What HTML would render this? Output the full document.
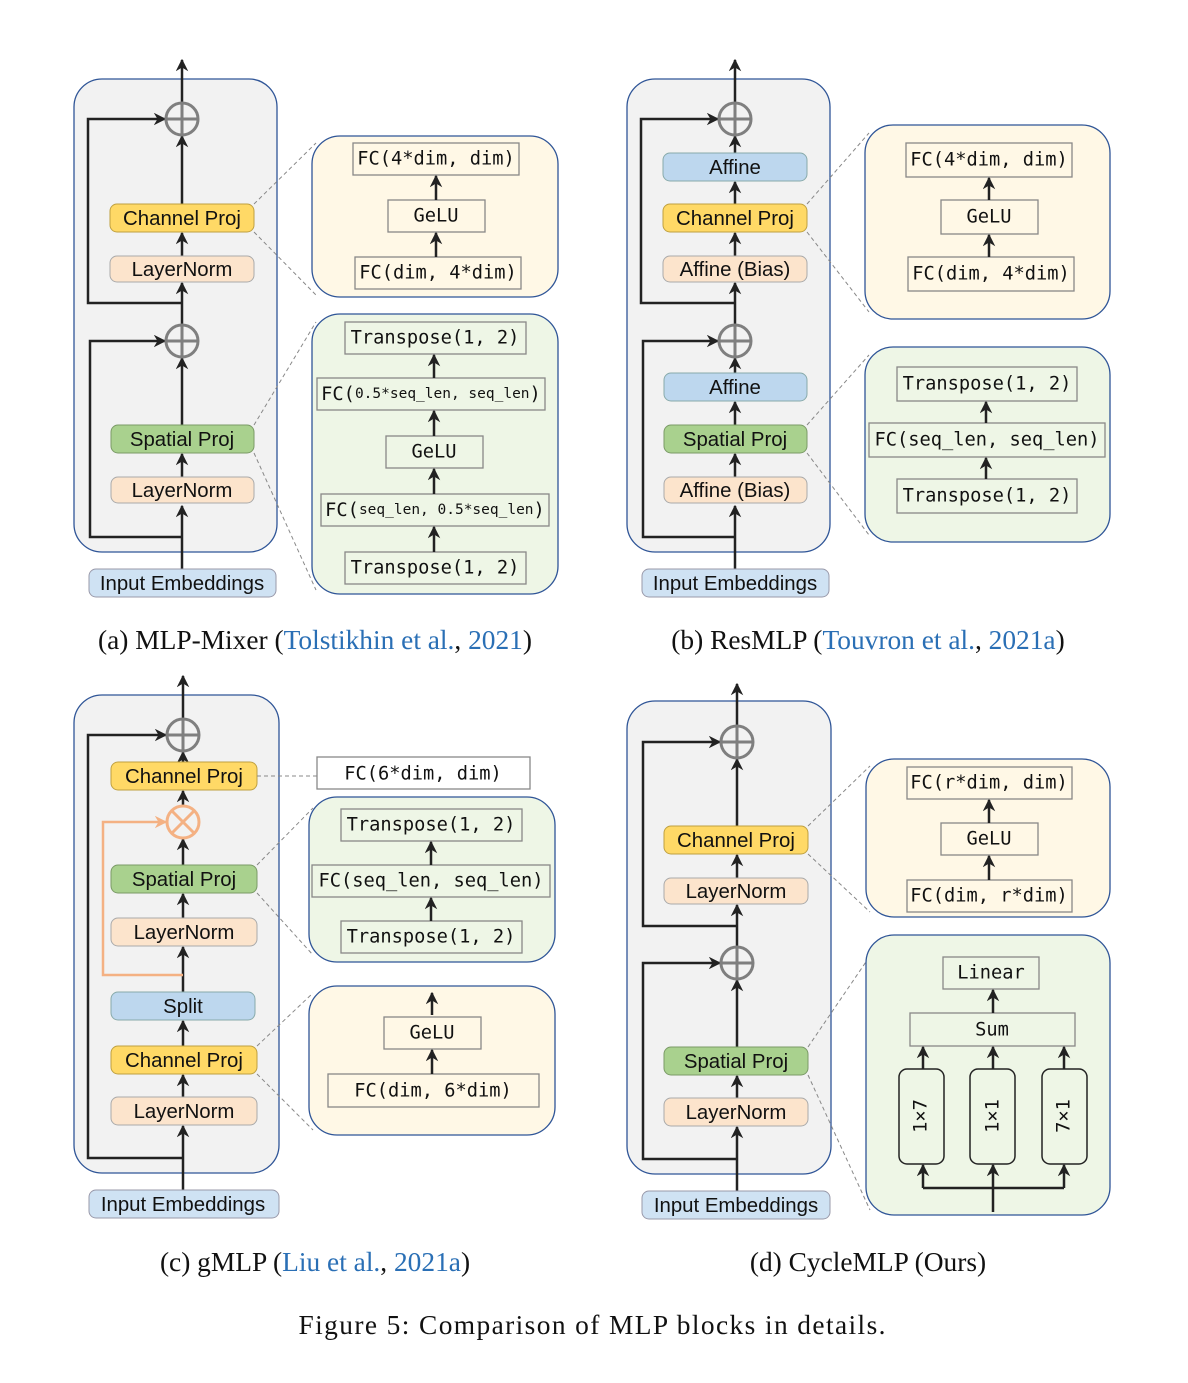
<!DOCTYPE html>
<html><head><meta charset="utf-8"><style>
body{margin:0;background:#fff}
svg{display:block}
.s{font-family:"Liberation Sans",sans-serif;font-size:20.4px;fill:#111;text-anchor:middle;dominant-baseline:central}
.m{font-family:"DejaVu Sans Mono","Liberation Mono",monospace;font-size:18.7px;fill:#111;text-anchor:middle;dominant-baseline:central}
.cap{font-family:"Liberation Serif",serif;font-size:27.4px;fill:#111;text-anchor:middle}
.l{fill:#2a6fb5}
.ln{stroke:#222;stroke-width:2.5;fill:none}
.dl{stroke:#888;stroke-width:1;stroke-dasharray:4 3;fill:none}
.bx{fill:#fff0;stroke:#888;stroke-width:1.3}
</style></head><body>
<svg width="1188" height="1383" viewBox="0 0 1188 1383" xmlns="http://www.w3.org/2000/svg">
<defs>
<marker id="a" viewBox="0 0 10 10" refX="9" refY="5" markerWidth="5" markerHeight="5" orient="auto"><path d="M0,0 L10,5 L0,10 L3,5z" fill="#222"/></marker>
<marker id="o" viewBox="0 0 10 10" refX="9" refY="5" markerWidth="5" markerHeight="5" orient="auto"><path d="M0,0 L10,5 L0,10 L3,5z" fill="#f4b183"/></marker>
</defs>

<!-- ===== (a) ===== -->
<rect x="74" y="79" width="203" height="473" rx="28" fill="#f2f2f2" stroke="#2f5597" stroke-width="1.3"/>
<g class="ln" marker-end="url(#a)">
<line x1="182" y1="569" x2="182" y2="506"/><line x1="182" y1="477" x2="182" y2="454"/>
<line x1="182" y1="425" x2="182" y2="358"/><line x1="182" y1="325" x2="182" y2="283"/>
<line x1="182" y1="256" x2="182" y2="233"/><line x1="182" y1="204" x2="182" y2="136"/>
<line x1="182" y1="103" x2="182" y2="60"/>
<polyline points="182,303 88,303 88,119 165,119"/>
<polyline points="182,537 90,537 90,341 165,341"/>
</g>
<g fill="none" stroke="#7f7f7f" stroke-width="3">
<circle cx="182" cy="119" r="16"/><path d="M166,119H198M182,103V135"/>
<circle cx="182" cy="341" r="16"/><path d="M166,341H198M182,325V357"/>
</g>
<rect x="110" y="204" width="144" height="28" rx="7" fill="#ffd966" stroke="#bfa040"/><text class="s" x="182" y="219">Channel Proj</text>
<rect x="110" y="256" width="144" height="26" rx="7" fill="#fce4cc" stroke="#aaa"/><text class="s" x="182" y="270">LayerNorm</text>
<rect x="111" y="425" width="143" height="28" rx="7" fill="#a9d18e" stroke="#7a9a66"/><text class="s" x="182" y="440">Spatial Proj</text>
<rect x="111" y="477" width="143" height="26" rx="7" fill="#fce4cc" stroke="#aaa"/><text class="s" x="182" y="491">LayerNorm</text>
<rect x="89" y="569" width="187" height="28" rx="7" fill="#cfe2f3" stroke="#99a"/><text class="s" x="182" y="584">Input Embeddings</text>
<path class="dl" d="M254,204 L316,143 M254,232 L316,295 M254,425 L316,322 M254,453 L316,590"/>
<rect x="312" y="136" width="246" height="161" rx="28" fill="#fff8e6" stroke="#2f5597" stroke-width="1.3"/>
<rect class="bx" x="353" y="143" width="166" height="32"/><text class="m" x="436" y="159">FC(4*dim, dim)</text>
<rect class="bx" x="388" y="200" width="97" height="32"/><text class="m" x="436" y="216">GeLU</text>
<rect class="bx" x="355" y="257" width="166" height="32"/><text class="m" x="438" y="273">FC(dim, 4*dim)</text>
<g class="ln" marker-end="url(#a)"><line x1="436" y1="200" x2="436" y2="176"/><line x1="436" y1="257" x2="436" y2="233"/></g>
<rect x="312" y="314" width="246" height="280" rx="28" fill="#eef6e6" stroke="#2f5597" stroke-width="1.3"/>
<rect class="bx" x="345" y="322" width="181" height="32"/><text class="m" x="435" y="338">Transpose(1, 2)</text>
<rect class="bx" x="317" y="378" width="228" height="32"/><text class="m" x="431" y="394"><tspan>FC(</tspan><tspan font-size="14.5">0.5*seq_len, seq_len</tspan><tspan>)</tspan></text>
<rect class="bx" x="386" y="436" width="97" height="32"/><text class="m" x="434" y="452">GeLU</text>
<rect class="bx" x="321" y="494" width="228" height="32"/><text class="m" x="435" y="510"><tspan>FC(</tspan><tspan font-size="14.5">seq_len, 0.5*seq_len</tspan><tspan>)</tspan></text>
<rect class="bx" x="345" y="552" width="181" height="32"/><text class="m" x="435" y="568">Transpose(1, 2)</text>
<g class="ln" marker-end="url(#a)"><line x1="434" y1="378" x2="434" y2="355"/><line x1="434" y1="436" x2="434" y2="411"/><line x1="434" y1="494" x2="434" y2="469"/><line x1="434" y1="552" x2="434" y2="527"/></g>
<text class="cap" x="315" y="649">(a) MLP-Mixer (<tspan class="l">Tolstikhin et al.</tspan>, <tspan class="l">2021</tspan>)</text>

<!-- ===== (b) ===== -->
<rect x="627" y="79" width="203" height="473" rx="28" fill="#f2f2f2" stroke="#2f5597" stroke-width="1.3"/>
<g class="ln" marker-end="url(#a)">
<line x1="735" y1="569" x2="735" y2="506"/><line x1="735" y1="477" x2="735" y2="454"/>
<line x1="735" y1="425" x2="735" y2="402"/><line x1="735" y1="373" x2="735" y2="358"/>
<line x1="735" y1="325" x2="735" y2="283"/>
<line x1="735" y1="256" x2="735" y2="233"/><line x1="735" y1="204" x2="735" y2="182"/>
<line x1="735" y1="153" x2="735" y2="136"/>
<line x1="735" y1="103" x2="735" y2="60"/>
<polyline points="735,303 641,303 641,119 718,119"/>
<polyline points="735,537 643,537 643,341 718,341"/>
</g>
<g fill="none" stroke="#7f7f7f" stroke-width="3">
<circle cx="735" cy="119" r="16"/><path d="M719,119H751M735,103V135"/>
<circle cx="735" cy="341" r="16"/><path d="M719,341H751M735,325V357"/>
</g>
<rect x="663" y="153" width="144" height="28" rx="7" fill="#bdd7ee" stroke="#8aa"/><text class="s" x="735" y="168">Affine</text>
<rect x="663" y="204" width="144" height="28" rx="7" fill="#ffd966" stroke="#bfa040"/><text class="s" x="735" y="219">Channel Proj</text>
<rect x="663" y="256" width="144" height="26" rx="7" fill="#fce4cc" stroke="#aaa"/><text class="s" x="735" y="270">Affine (Bias)</text>
<rect x="664" y="373" width="143" height="28" rx="7" fill="#bdd7ee" stroke="#8aa"/><text class="s" x="735" y="388">Affine</text>
<rect x="664" y="425" width="143" height="28" rx="7" fill="#a9d18e" stroke="#7a9a66"/><text class="s" x="735" y="440">Spatial Proj</text>
<rect x="664" y="477" width="143" height="26" rx="7" fill="#fce4cc" stroke="#aaa"/><text class="s" x="735" y="491">Affine (Bias)</text>
<rect x="642" y="569" width="187" height="28" rx="7" fill="#cfe2f3" stroke="#99a"/><text class="s" x="735" y="584">Input Embeddings</text>
<path class="dl" d="M807,204 L869,133 M807,232 L869,312 M807,425 L869,355 M807,453 L869,535"/>
<rect x="865" y="125" width="245" height="194" rx="28" fill="#fff8e6" stroke="#2f5597" stroke-width="1.3"/>
<rect class="bx" x="906" y="143" width="166" height="34"/><text class="m" x="989" y="160">FC(4*dim, dim)</text>
<rect class="bx" x="941" y="200" width="97" height="34"/><text class="m" x="989" y="217">GeLU</text>
<rect class="bx" x="908" y="257" width="166" height="34"/><text class="m" x="991" y="274">FC(dim, 4*dim)</text>
<g class="ln" marker-end="url(#a)"><line x1="989" y1="200" x2="989" y2="178"/><line x1="989" y1="257" x2="989" y2="235"/></g>
<rect x="865" y="347" width="245" height="195" rx="28" fill="#eef6e6" stroke="#2f5597" stroke-width="1.3"/>
<rect class="bx" x="897" y="367" width="180" height="34"/><text class="m" x="987" y="384">Transpose(1, 2)</text>
<rect class="bx" x="869" y="423" width="236" height="34"/><text class="m" x="987" y="440">FC(seq_len, seq_len)</text>
<rect class="bx" x="897" y="479" width="180" height="34"/><text class="m" x="987" y="496">Transpose(1, 2)</text>
<g class="ln" marker-end="url(#a)"><line x1="986" y1="423" x2="986" y2="402"/><line x1="986" y1="479" x2="986" y2="458"/></g>
<text class="cap" x="868" y="649">(b) ResMLP (<tspan class="l">Touvron et al.</tspan>, <tspan class="l">2021a</tspan>)</text>

<!-- ===== (c) ===== -->
<rect x="74" y="695" width="205" height="478" rx="28" fill="#f2f2f2" stroke="#2f5597" stroke-width="1.3"/>
<g class="ln" marker-end="url(#a)">
<line x1="183" y1="1190" x2="183" y2="1126"/><line x1="183" y1="1097" x2="183" y2="1075"/>
<line x1="183" y1="1046" x2="183" y2="1021"/><line x1="183" y1="992" x2="183" y2="947"/>
<line x1="183" y1="918" x2="183" y2="894"/><line x1="183" y1="865" x2="183" y2="839"/>
<line x1="183" y1="806" x2="183" y2="791"/><line x1="183" y1="762" x2="183" y2="752"/>
<line x1="183" y1="719" x2="183" y2="676"/>
<polyline points="183,1158 88,1158 88,735 166,735"/>
</g>
<polyline points="183,975 103,975 103,822 166,822" fill="none" stroke="#f4b183" stroke-width="2.5" marker-end="url(#o)"/>
<g fill="none" stroke="#7f7f7f" stroke-width="3"><circle cx="183" cy="735" r="16"/><path d="M167,735H199M183,719V751"/></g>
<g fill="none" stroke="#f4b183" stroke-width="3"><circle cx="183" cy="822" r="16"/><path d="M172,811L194,833M194,811L172,833"/></g>
<rect x="111" y="762" width="146" height="28" rx="7" fill="#ffd966" stroke="#bfa040"/><text class="s" x="184" y="777">Channel Proj</text>
<rect x="111" y="865" width="146" height="28" rx="7" fill="#a9d18e" stroke="#7a9a66"/><text class="s" x="184" y="880">Spatial Proj</text>
<rect x="111" y="918" width="146" height="28" rx="7" fill="#fce4cc" stroke="#aaa"/><text class="s" x="184" y="933">LayerNorm</text>
<rect x="111" y="992" width="144" height="28" rx="7" fill="#bdd7ee" stroke="#8aa"/><text class="s" x="183" y="1007">Split</text>
<rect x="111" y="1046" width="146" height="28" rx="7" fill="#ffd966" stroke="#bfa040"/><text class="s" x="184" y="1061">Channel Proj</text>
<rect x="111" y="1097" width="146" height="28" rx="7" fill="#fce4cc" stroke="#aaa"/><text class="s" x="184" y="1112">LayerNorm</text>
<rect x="89" y="1190" width="190" height="28" rx="7" fill="#cfe2f3" stroke="#99a"/><text class="s" x="183" y="1205">Input Embeddings</text>
<path class="dl" d="M257,776 L317,776 M257,865 L313,808 M257,893 L313,955 M257,1046 L313,993 M257,1074 L313,1130"/>
<rect class="bx" x="317" y="757" width="213" height="32" stroke="#999"/><text class="m" x="423" y="774">FC(6*dim, dim)</text>
<rect x="309" y="797" width="246" height="165" rx="28" fill="#eef6e6" stroke="#2f5597" stroke-width="1.3"/>
<rect class="bx" x="341" y="809" width="181" height="32"/><text class="m" x="431" y="825">Transpose(1, 2)</text>
<rect class="bx" x="312" y="865" width="238" height="32"/><text class="m" x="431" y="881">FC(seq_len, seq_len)</text>
<rect class="bx" x="341" y="921" width="181" height="32"/><text class="m" x="431" y="937">Transpose(1, 2)</text>
<g class="ln" marker-end="url(#a)"><line x1="431" y1="865" x2="431" y2="842"/><line x1="431" y1="921" x2="431" y2="898"/></g>
<rect x="309" y="986" width="246" height="149" rx="28" fill="#fff8e6" stroke="#2f5597" stroke-width="1.3"/>
<rect class="bx" x="384" y="1017" width="97" height="32"/><text class="m" x="432" y="1033">GeLU</text>
<rect class="bx" x="328" y="1074" width="211" height="33"/><text class="m" x="433" y="1091">FC(dim, 6*dim)</text>
<g class="ln" marker-end="url(#a)"><line x1="432" y1="1015" x2="432" y2="993"/><line x1="432" y1="1074" x2="432" y2="1050"/></g>
<text class="cap" x="315" y="1271">(c) gMLP (<tspan class="l">Liu et al.</tspan>, <tspan class="l">2021a</tspan>)</text>

<!-- ===== (d) ===== -->
<rect x="627" y="701" width="204" height="473" rx="28" fill="#f2f2f2" stroke="#2f5597" stroke-width="1.3"/>
<g class="ln" marker-end="url(#a)">
<line x1="737" y1="1191" x2="737" y2="1127"/><line x1="737" y1="1098" x2="737" y2="1076"/>
<line x1="737" y1="1047" x2="737" y2="980"/><line x1="737" y1="947" x2="737" y2="905"/>
<line x1="737" y1="878" x2="737" y2="855"/><line x1="737" y1="826" x2="737" y2="759"/>
<line x1="737" y1="726" x2="737" y2="684"/>
<polyline points="737,926 643,926 643,742 720,742"/>
<polyline points="737,1159 643,1159 643,963 720,963"/>
</g>
<g fill="none" stroke="#7f7f7f" stroke-width="3">
<circle cx="737" cy="742" r="16"/><path d="M721,742H753M737,726V758"/>
<circle cx="737" cy="963" r="16"/><path d="M721,963H753M737,947V979"/>
</g>
<rect x="664" y="826" width="144" height="28" rx="7" fill="#ffd966" stroke="#bfa040"/><text class="s" x="736" y="841">Channel Proj</text>
<rect x="664" y="878" width="144" height="26" rx="7" fill="#fce4cc" stroke="#aaa"/><text class="s" x="736" y="892">LayerNorm</text>
<rect x="664" y="1047" width="144" height="28" rx="7" fill="#a9d18e" stroke="#7a9a66"/><text class="s" x="736" y="1062">Spatial Proj</text>
<rect x="664" y="1098" width="144" height="28" rx="7" fill="#fce4cc" stroke="#aaa"/><text class="s" x="736" y="1113">LayerNorm</text>
<rect x="642" y="1191" width="188" height="28" rx="7" fill="#cfe2f3" stroke="#99a"/><text class="s" x="736" y="1206">Input Embeddings</text>
<path class="dl" d="M808,826 L870,766 M808,854 L870,912 M808,1047 L870,956 M808,1075 L870,1210"/>
<rect x="866" y="759" width="244" height="158" rx="28" fill="#fff8e6" stroke="#2f5597" stroke-width="1.3"/>
<rect class="bx" x="907" y="767" width="165" height="32"/><text class="m" x="989" y="783">FC(r*dim, dim)</text>
<rect class="bx" x="941" y="823" width="97" height="32"/><text class="m" x="989" y="839">GeLU</text>
<rect class="bx" x="907" y="880" width="165" height="32"/><text class="m" x="989" y="896">FC(dim, r*dim)</text>
<g class="ln" marker-end="url(#a)"><line x1="989" y1="823" x2="989" y2="800"/><line x1="989" y1="880" x2="989" y2="856"/></g>
<rect x="866" y="935" width="244" height="280" rx="28" fill="#eef6e6" stroke="#2f5597" stroke-width="1.3"/>
<rect class="bx" x="943" y="957" width="96" height="32"/><text class="m" x="991" y="973">Linear</text>
<rect class="bx" x="910" y="1013" width="165" height="33"/><text class="m" x="992" y="1030">Sum</text>
<g fill="none" stroke="#222" stroke-width="1.5">
<rect x="899" y="1069" width="45" height="95" rx="8"/><rect x="970" y="1069" width="45" height="95" rx="8"/><rect x="1042" y="1069" width="45" height="95" rx="8"/>
</g>
<text class="m" transform="translate(921,1116) rotate(-90)">1×7</text>
<text class="m" transform="translate(993,1116) rotate(-90)">1×1</text>
<text class="m" transform="translate(1064,1116) rotate(-90)">7×1</text>
<g class="ln" marker-end="url(#a)">
<line x1="993" y1="1013" x2="993" y2="990"/>
<line x1="923" y1="1069" x2="923" y2="1047"/><line x1="993" y1="1069" x2="993" y2="1047"/><line x1="1064" y1="1069" x2="1064" y2="1047"/>
<line x1="993" y1="1212" x2="993" y2="1165"/>
<polyline points="923,1188 923,1165"/><polyline points="1064,1188 1064,1165"/>
</g>
<line class="ln" x1="923" y1="1188" x2="1064" y2="1188"/>
<text class="cap" x="868" y="1271">(d) CycleMLP (Ours)</text>

<text class="cap" x="592" y="1334" font-size="30" textLength="587" lengthAdjust="spacing">Figure 5: Comparison of MLP blocks in details.</text>
</svg>
</body></html>
